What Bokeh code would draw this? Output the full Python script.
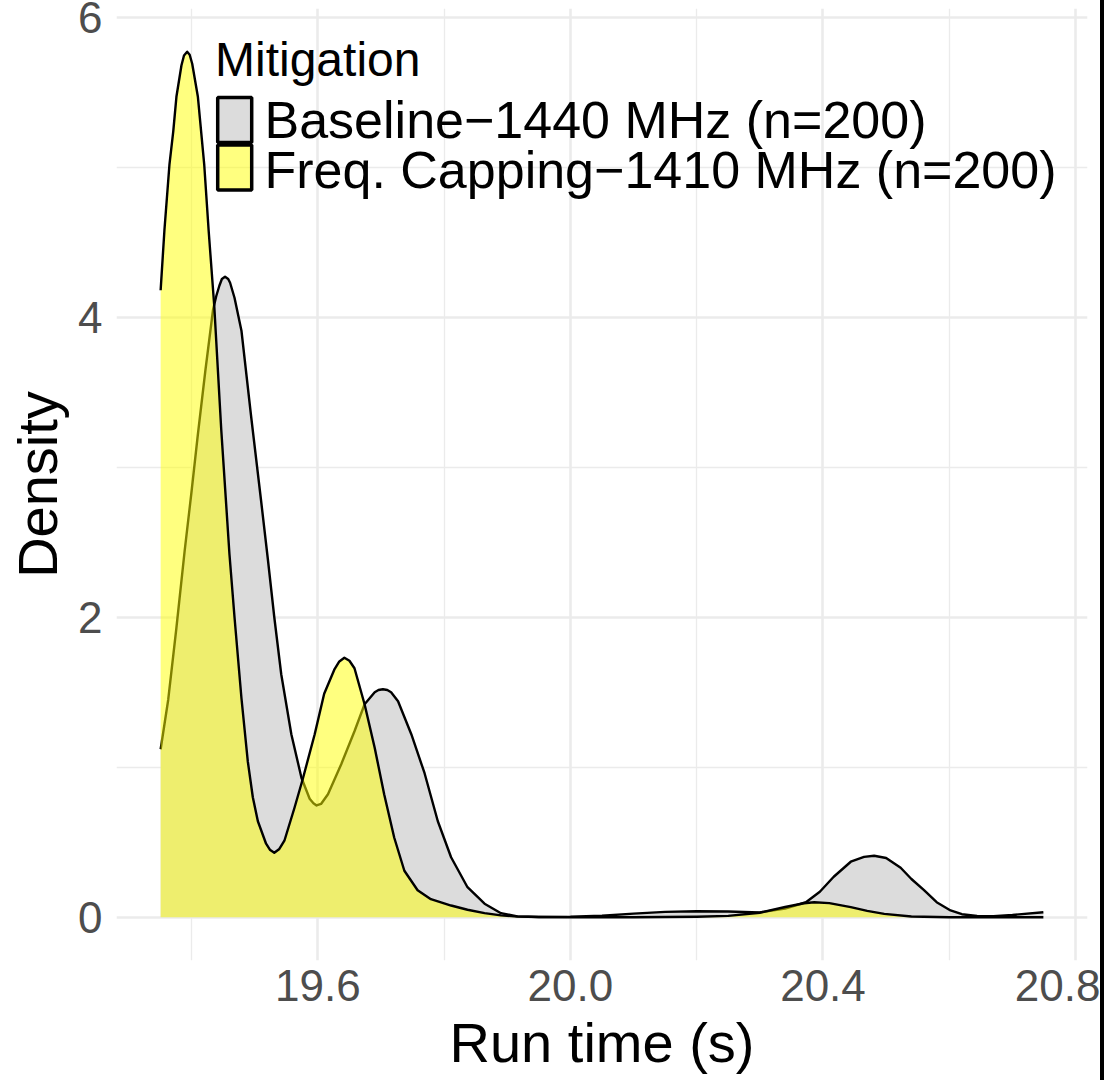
from bokeh.plotting import figure
from bokeh.models import Range1d, FixedTicker, NumeralTickFormatter, Label, BoxAnnotation
from bokeh.embed import file_html
from bokeh.resources import INLINE

# ---- data (density curves) ----
baseline_x = [19.351, 19.363, 19.376, 19.389, 19.400, 19.410, 19.422, 19.434, 19.439, 19.444,
              19.448, 19.453, 19.458, 19.461, 19.468, 19.479, 19.494, 19.510, 19.521, 19.531,
              19.542, 19.558, 19.574, 19.587, 19.593, 19.598, 19.605, 19.616, 19.637, 19.658,
              19.674, 19.690, 19.696, 19.703, 19.710, 19.716, 19.727, 19.748, 19.769, 19.790,
              19.811, 19.837, 19.864, 19.890, 19.916, 19.95, 20.00, 20.05, 20.10, 20.15,
              20.20, 20.25, 20.30, 20.34, 20.373, 20.395, 20.417, 20.444, 20.465, 20.481,
              20.50, 20.523, 20.54, 20.56, 20.58, 20.602, 20.62, 20.644, 20.67, 20.70,
              20.749]
baseline_y = [1.12, 1.45, 1.93, 2.44, 2.84, 3.22, 3.65, 4.05, 4.14, 4.21,
              4.255, 4.27, 4.255, 4.23, 4.13, 3.91, 3.35, 2.78, 2.38, 2.00,
              1.62, 1.22, 0.93, 0.79, 0.76, 0.745, 0.755, 0.82, 1.02, 1.24,
              1.42, 1.50, 1.515, 1.52, 1.515, 1.50, 1.44, 1.22, 0.96, 0.64,
              0.40, 0.20, 0.09, 0.027, 0.006, 0.002, 0.003, 0.010, 0.024, 0.036,
              0.040, 0.038, 0.032, 0.058, 0.100, 0.170, 0.270, 0.370, 0.402, 0.410,
              0.395, 0.330, 0.255, 0.180, 0.100, 0.045, 0.020, 0.008, 0.007, 0.015,
              0.033]

capping_x = [19.351, 19.357, 19.365, 19.371, 19.376, 19.384, 19.388, 19.393, 19.397, 19.401,
             19.410, 19.420, 19.427, 19.436, 19.447, 19.460, 19.468, 19.479, 19.489, 19.497,
             19.505, 19.518, 19.524, 19.531, 19.539, 19.547, 19.563, 19.576, 19.595, 19.610,
             19.626, 19.634, 19.642, 19.650, 19.658, 19.674, 19.690, 19.705, 19.721, 19.737,
             19.758, 19.779, 19.811, 19.837, 19.864, 19.890, 19.916, 19.95, 20.00, 20.10,
             20.20, 20.25, 20.30, 20.34, 20.37, 20.386, 20.41, 20.444, 20.47, 20.497,
             20.54, 20.60, 20.70, 20.749]
capping_y = [4.18, 4.58, 5.02, 5.24, 5.47, 5.68, 5.745, 5.77, 5.75, 5.69,
             5.47, 5.02, 4.58, 4.07, 3.25, 2.42, 2.00, 1.46, 1.04, 0.80,
             0.64, 0.49, 0.45, 0.43, 0.455, 0.51, 0.73, 0.92, 1.22, 1.49,
             1.65, 1.705, 1.73, 1.71, 1.66, 1.42, 1.13, 0.82, 0.53, 0.31,
             0.18, 0.12, 0.078, 0.05, 0.027, 0.012, 0.005, 0.002, 0.0, 0.0,
             0.003, 0.009, 0.030, 0.068, 0.093, 0.100, 0.094, 0.067, 0.042, 0.022,
             0.005, 0.0, 0.0, 0.0]

series_labels = ["Baseline\u22121440 MHz (n=200)", "Freq. Capping\u22121410 MHz (n=200)"]
legend_title = "Mitigation"
series_fill = ["#DCDCDC", "yellow"]
series_alpha = [1.0, 0.5]

x_ticks = [19.6, 20.0, 20.4, 20.8]
x_minor = [19.4, 19.8, 20.2, 20.6]
y_ticks = [0, 2, 4, 6]
y_minor = [1, 3, 5]
x_title = "Run time (s)"
y_title = "Density"

FONT = "Liberation Sans"

# ggplot-like 5% expansion of the data range
all_x = baseline_x + capping_x
all_y = baseline_y + capping_y
xlo, xhi = min(all_x), max(all_x)
xpad = 0.05 * (xhi - xlo)
ylo, yhi = 0.0, max(all_y)
ypad = 0.05 * (yhi - ylo)

p = figure(width=1100, height=1080, output_backend="svg", toolbar_location=None,
           x_range=Range1d(xlo - xpad, xhi + xpad), y_range=Range1d(ylo - ypad, yhi + ypad),
           min_border_left=116, min_border_right=13, min_border_top=8, min_border_bottom=120)
# dark rule just right of the page, as in the reference (does not affect layout)
p.styles = {"box-shadow": "4px 0px 0px 0px #000000"}
p.outline_line_color = None
p.background_fill_color = "white"
p.border_fill_color = "white"

# axes
p.xaxis.ticker = FixedTicker(ticks=x_ticks, minor_ticks=x_minor)
p.yaxis.ticker = FixedTicker(ticks=y_ticks, minor_ticks=y_minor)
p.xaxis.formatter = NumeralTickFormatter(format="0.0")
for ax in (p.xaxis[0], p.yaxis[0]):
    ax.axis_line_color = None
    ax.major_tick_line_color = None
    ax.minor_tick_line_color = None
    ax.major_tick_out = 0
    ax.minor_tick_out = 0
    ax.major_label_text_font = FONT
    ax.major_label_text_font_size = "44px"
    ax.major_label_text_color = "#4D4D4D"
    ax.axis_label_text_font = FONT
    ax.axis_label_text_font_size = "56px"
    ax.axis_label_text_font_style = "normal"
    ax.axis_label_text_color = "black"
p.xaxis.axis_label = x_title
p.yaxis.axis_label = y_title
p.xaxis.major_label_standoff = 9
p.xaxis.axis_label_standoff = 7
p.yaxis.major_label_standoff = 14
p.yaxis.axis_label_standoff = 6

for g in (p.xgrid[0], p.ygrid[0]):
    g.grid_line_color = "#EBEBEB"
    g.grid_line_width = 2.6
    g.minor_grid_line_color = "#EBEBEB"
    g.minor_grid_line_width = 1.3

# density areas (baseline under, capping over with transparency)
p.varea(x=baseline_x, y1=0, y2=baseline_y, fill_color=series_fill[0], fill_alpha=series_alpha[0])
p.line(baseline_x, baseline_y, line_color="black", line_width=2.4, line_join="round")
p.varea(x=capping_x, y1=0, y2=capping_y, fill_color=series_fill[1], fill_alpha=series_alpha[1])
p.line(capping_x, capping_y, line_color="black", line_width=2.4, line_join="round")

# legend (screen units, relative to the plot frame)
p.add_layout(Label(x=98.5, y=901.0, x_units="screen", y_units="screen", text=legend_title,
                   text_font=FONT, text_font_size="48px", text_color="black",
                   text_baseline="alphabetic", text_align="left"))
key_tops = [863.0, 815.5]
key_h = 45.0
label_y = [841.0, 791.0]
for i in range(2):
    p.add_layout(BoxAnnotation(left=101.2, right=135.2, top=key_tops[i], bottom=key_tops[i] - key_h,
                               left_units="screen", right_units="screen",
                               top_units="screen", bottom_units="screen",
                               fill_color=series_fill[i], fill_alpha=series_alpha[i],
                               line_color="black", line_alpha=1.0, line_width=3.5))
    p.add_layout(Label(x=148.0, y=label_y[i], x_units="screen", y_units="screen",
                       text=series_labels[i], text_font=FONT, text_font_size="52px",
                       text_color="black", text_baseline="alphabetic", text_align="left"))

open("out.html", "w").write(file_html(p, INLINE))
